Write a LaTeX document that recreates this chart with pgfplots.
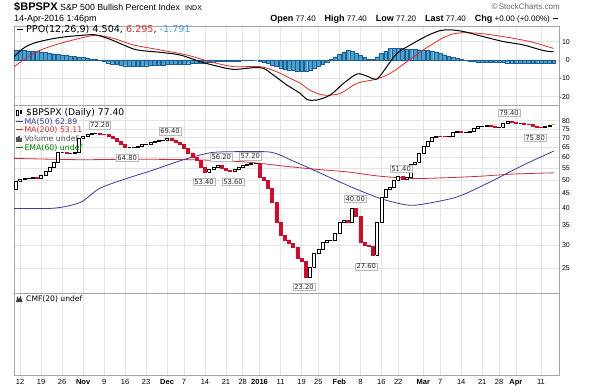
\documentclass[border=0pt]{standalone}
\usepackage{pgfplots}
\pgfplotsset{compat=1.18}
\usepackage{pgfplotstable}
\usepackage{fontspec}
\setmainfont{Liberation Sans}
\newfontfamily\dv{DejaVu Sans}
\newcommand{\fs}[1]{\fontsize{#1}{#1}\selectfont}

\definecolor{cand}{RGB}{200,16,46}
\definecolor{ma50}{RGB}{60,60,150}
\definecolor{ma200}{RGB}{205,45,65}
\definecolor{sig}{RGB}{215,45,45}
\definecolor{histf}{RGB}{75,160,205}
\definecolor{histd}{RGB}{30,95,145}
\definecolor{gridc}{RGB}{228,228,228}
\definecolor{gridm}{RGB}{180,180,180}
\definecolor{framec}{RGB}{165,165,165}
\definecolor{emag}{RGB}{0,128,0}
\definecolor{lastc}{RGB}{200,185,0}

% daily close (open = previous close; first open 46.6)
\pgfplotstableread{
i c
-1 49.6
0 50.2
1 50.6
2 50.8
3 51.0
4 50.6
5 52.0
6 53.6
7 55.6
8 57.8
9 62.2
10 62.2
11 62.0
12 62.0
13 62.2
14 69.8
15 70.6
16 71.8
17 72.2
18 72.2
19 72.0
20 71.8
21 71.0
22 69.8
23 68.2
24 66.4
25 64.8
26 64.8
27 65.0
28 65.2
29 66.2
30 66.4
31 67.4
32 67.8
33 68.4
34 68.8
35 69.4
36 68.8
37 67.6
38 66.2
39 64.4
40 62.0
41 60.0
42 58.6
43 55.6
44 53.4
45 54.4
46 55.4
47 56.2
48 54.8
49 54.0
50 53.6
51 54.6
52 55.6
53 56.2
54 56.6
55 57.0
56 57.2
57 51.2
58 49.8
59 47.0
60 42.0
61 36.0
62 32.4
63 31.2
64 30.4
65 29.4
66 27.0
67 26.4
68 23.2
69 25.2
70 28.0
71 29.0
72 30.6
73 31.0
74 31.0
75 33.0
76 35.8
77 36.4
78 36.0
79 40.0
80 37.6
81 30.6
82 30.0
83 29.6
84 27.6
85 35.8
86 43.8
87 46.4
88 47.4
89 50.0
90 51.4
91 50.2
92 51.2
93 56.8
94 57.8
95 62.0
96 65.2
97 67.8
98 70.2
99 71.0
100 70.8
101 70.6
102 71.0
103 73.2
104 73.6
105 72.8
106 73.0
107 73.8
108 75.2
109 76.4
110 76.8
111 77.0
112 76.8
113 75.8
114 76.2
115 78.6
116 79.4
117 79.0
118 78.6
119 78.6
120 78.0
121 77.6
122 76.8
123 76.2
124 75.8
125 76.6
126 77.4
127 77.4
}\candles

\pgfplotstableread{
i h
-1 5.5
0 5.4
1 5.2
2 5.0
3 4.9
4 4.6
5 4.3
6 4.0
7 3.7
8 3.4
9 3.0
10 2.7
11 2.4
12 2.1
13 1.9
14 1.7
15 1.5
16 1.1
17 0.6
18 0.2
19 -0.3
20 -0.9
21 -1.5
22 -2.0
23 -2.5
24 -2.9
25 -3.1
26 -3.3
27 -3.3
28 -3.3
29 -3.2
30 -3.1
31 -3.0
32 -2.9
33 -2.8
34 -2.6
35 -2.5
36 -2.4
37 -2.3
38 -2.2
39 -2.1
40 -2.0
41 -1.9
42 -1.9
43 -1.8
44 -1.6
45 -1.4
46 -1.1
47 -0.9
48 -0.9
49 -0.9
50 -0.9
51 -0.8
52 -0.6
53 -0.3
54 -0.1
55 0.1
56 0.0
57 -0.4
58 -1.0
59 -1.8
60 -2.7
61 -3.5
62 -4.2
63 -4.8
64 -5.3
65 -5.7
66 -6.0
67 -6.1
68 -5.9
69 -5.4
70 -4.5
71 -3.5
72 -2.4
73 -1.2
74 0.2
75 1.8
76 3.2
77 4.4
78 5.1
79 4.8
80 3.6
81 2.4
82 1.3
83 0.5
84 0.4
85 1.8
86 3.6
87 5.0
88 6.2
89 6.5
90 6.4
91 6.2
92 6.0
93 5.8
94 5.7
95 5.6
96 5.4
97 5.1
98 4.8
99 4.3
100 3.6
101 2.9
102 2.2
103 1.6
104 1.0
105 0.4
106 -0.1
107 -0.5
108 -0.8
109 -1.0
110 -1.1
111 -1.2
112 -1.3
113 -1.3
114 -1.4
115 -1.4
116 -1.5
117 -1.5
118 -1.6
119 -1.6
120 -1.7
121 -1.8
122 -1.8
123 -1.8
124 -1.7
125 -1.6
126 -1.7
127 -1.8
}\histo

\pgfplotstableread{
i v
-1.4 1.8
0.8 6.4
3.2 9.1
7.1 11.3
11.1 12.7
15.1 13.5
17.5 13.8
19.0 13.1
21.4 11.3
24.6 8.2
27.8 5.5
33.3 4.2
38.1 2.7
42.9 -0.9
46.8 -3.3
50.8 -5.1
55.5 -4.2
57.9 -4.5
60.3 -8.2
63.5 -13.6
66.7 -18.2
68.3 -21.5
70.6 -21.8
73.8 -19.1
77.0 -12.7
80.2 -7.6
82.5 -8.7
84.9 -10.4
87.3 -3.6
89.7 3.6
92.9 8.2
96.8 13.1
100.0 16.0
102.4 16.4
105.5 15.5
110.3 12.7
115.1 10.0
119.8 8.2
124.6 5.1
127.0 4.5
}\ppo

\pgfplotstableread{
i v
-1.4 -3.6
3.2 3.6
7.1 7.3
11.1 10.0
15.9 12.7
18.3 13.5
22.2 11.8
27.0 8.2
33.3 5.5
39.7 2.7
45.2 -0.9
50.8 -3.6
57.1 -3.6
61.1 -6.4
64.3 -10.0
66.7 -12.7
69.0 -16.4
72.2 -19.1
76.2 -18.2
80.2 -12.7
84.9 -10.4
88.1 -7.3
92.1 -0.9
96.0 5.5
100.8 12.2
104.0 14.6
108.7 14.6
115.1 12.7
121.4 10.0
127.0 6.3
}\signal

\pgfplotstableread{
i v
-1.4 40.0
7.1 40.0
11.1 40.7
14.7 42.2
19.0 46.9
25.4 50.7
31.7 54.2
37.3 57.8
41.3 60.2
45.2 62.1
49.2 62.6
58.7 62.6
61.9 61.0
64.3 58.8
69.0 54.9
77.8 48.1
85.7 43.3
92.1 41.1
96.0 41.4
104.0 43.8
111.1 48.7
115.9 52.8
120.6 57.1
127.0 62.9
}\maf

\pgfplotstableread{
i v
-1.4 59.4
14.1 58.8
25.4 59.0
40.5 58.8
53.2 57.8
64.3 55.6
69.8 54.6
77.8 53.4
85.7 51.6
93.7 50.7
101.6 51.0
109.5 51.6
117.5 52.5
127.0 53.0
}\mat

\tikzset{lbl/.style={font=\dv\fs{6.8}, fill=white, draw=gray!55, line width=0.3pt, inner sep=1pt, text=black!85}}
\pgfplotsset{
 candle0/.style={draw=black, line width=0.5pt},
 candle1/.style={draw=black, fill=white, line width=0.5pt},
 candle2/.style={draw=cand, fill=cand, line width=0.5pt},
 candle3/.style={draw=lastc, line width=0.9pt},
 panel/.style={
  scale only axis, width=545.5pt, xmin=-1.45, xmax=128.4,
  axis line style={framec, line width=0.5pt},
  xtick={0,5,10,15,20,25,30,35,39,44,49,53,57,62,67,71,76,81,86,90,96,100,105,110,114,118,124},
  minor xtick={15,35,57,76,96,118},
  xmajorgrids, ymajorgrids, xminorgrids,
  major grid style={gridc, line width=0.5pt},
  minor grid style={gridm, line width=0.6pt},
  major tick length=0pt, minor tick length=0pt,
  xticklabels={},
  yticklabel pos=right,
  yticklabel style={font=\fs{7}, anchor=east, inner sep=0pt, xshift=10.5pt},
  /pgf/number format/assume math mode=true,
  no markers,
 }
}

\begin{document}
\begin{tikzpicture}
\path[use as bounding box, fill=white] (0pt,0pt) rectangle (590pt,-389pt);

% ---------- PPO panel
\begin{axis}[panel, at={(14pt,-26pt)}, anchor=north west, height=79pt,
  ymin=-24.5, ymax=18.5, ytick={-20,-10,0,10}]
\addplot[ybar, bar width=0.9, fill=histf, draw=histd, line width=0.3pt] table[x=i,y=h] {\histo};
\addplot[sig, line width=0.8pt, smooth] table[x=i,y=v] {\signal};
\addplot[black, line width=1pt, smooth] table[x=i,y=v] {\ppo};
\end{axis}

% ---------- price panel
\pgfplotstablegetrowsof{\candles}
\pgfmathtruncatemacro\Nc{\pgfplotsretval-1}
\begin{axis}[panel, at={(14pt,-105pt)}, anchor=north west, height=188pt,
  ymode=log, ymin=20.5, ymax=90.6,
  ytick={25,30,35,40,45,50,55,60,65,70,75,80},
  yticklabels={25,30,35,40,45,50,55,60,65,70,75,80}]
\addplot[ma200, line width=0.8pt, smooth] table[x=i,y=v] {\mat};
\addplot[ma50, line width=0.8pt, smooth] table[x=i,y=v] {\maf};
\def\prevc{46.6}
\pgfplotsforeachungrouped \r in {0,...,\Nc}{%
  \pgfplotstablegetelem{\r}{i}\of\candles\let\ci\pgfplotsretval
  \pgfplotstablegetelem{\r}{c}\of\candles\let\cc\pgfplotsretval
  \pgfmathsetmacro\xl{\ci-0.36}%
  \pgfmathsetmacro\xr{\ci+0.36}%
  \pgfmathtruncatemacro\dir{(\cc>\prevc)?1:((\cc<\prevc)?2:0)}%
  \ifnum\r=\Nc\relax\def\dir{3}\fi
  \edef\tmp{\noexpand\addplot[candle\dir] coordinates {(\xl,\prevc) (\xr,\prevc) (\xr,\cc) (\xl,\cc) (\xl,\prevc)};}%
  \tmp
  \global\let\prevc\cc
}
\node[lbl] at (axis cs:19.0,77.3) {72.20};
\node[lbl] at (axis cs:25.5,59.6) {64.80};
\node[lbl] at (axis cs:35.7,73.7) {69.40};
\node[lbl] at (axis cs:47.9,60.0) {56.20};
\node[lbl] at (axis cs:43.8,49.3) {53.40};
\node[lbl] at (axis cs:50.7,49.3) {53.60};
\node[lbl] at (axis cs:54.8,60.5) {57.20};
\node[lbl] at (axis cs:67.6,21.5) {23.20};
\node[lbl] at (axis cs:79.8,43.1) {40.00};
\node[lbl] at (axis cs:82.4,25.3) {27.60};
\node[lbl] at (axis cs:90.7,54.6) {51.40};
\node[lbl] at (axis cs:116.4,85.0) {79.40};
\node[lbl] at (axis cs:122.6,69.8) {75.80};
\end{axis}

% ---------- CMF panel
\begin{axis}[panel, at={(14pt,-293pt)}, anchor=north west, height=82pt,
  ymin=0, ymax=1, ytick=\empty, ymajorgrids=false,
  xticklabels={12,19,26,\textbf{Nov},9,16,23,\textbf{Dec},7,14,21,28,\textbf{2016},11,19,25,\textbf{Feb},8,16,22,\textbf{Mar},7,14,21,28,\textbf{Apr},11},
  xticklabel style={font=\fs{7.5}, inner sep=0pt, anchor=north, yshift=-4pt}]
\addplot[draw=none] coordinates {(0,0.5)};
\end{axis}

% ---------- titles
\node[anchor=base west, inner sep=0pt, font=\bfseries\fs{11}] at (14pt,-10.7pt) {\$BPSPX};
\node[anchor=base west, inner sep=0pt, font=\fs{8.8}] at (60pt,-10.7pt) {S\&P 500 Bullish Percent Index};
\node[anchor=base west, inner sep=0pt, font=\fs{7}] at (185pt,-10.7pt) {INDX};
\node[anchor=base west, inner sep=0pt, font=\fs{9}] at (14pt,-21.7pt) {14-Apr-2016 1:46pm};
\node[anchor=base east, inner sep=0pt, font=\fs{8}, text=black!60] at (560pt,-9.5pt) {©\,StockCharts.com};
\node[anchor=base east, inner sep=0pt, font=\fs{8}] at (550pt,-21.5pt)
  {{\bfseries\fs{9}Open} 77.40\hspace{9pt}{\bfseries\fs{9}High} 77.40\hspace{9pt}{\bfseries\fs{9}Low} 77.20\hspace{9pt}{\bfseries\fs{9}Last} 77.40\hspace{9pt}{\bfseries\fs{9}Chg} +0.00 (+0.00\%)};
\draw[black, line width=1.2pt] (553pt,-18.5pt) -- (558pt,-18.5pt);

% ---------- PPO legend
\draw[black, line width=1pt] (16.5pt,-29.5pt) -- (23pt,-29.5pt);
\node[anchor=base west, inner sep=0pt, font=\dv\fs{9.6}] at (26pt,-32.6pt)
  {PPO(12,26,9) 4.504, \textcolor{sig}{6.295}, \textcolor{histf}{-1.791}};

% ---------- price legend
\draw[black, line width=0.4pt] (16.5pt,-110.5pt) rectangle (18.5pt,-115pt);
\fill[black] (19.6pt,-109.5pt) rectangle (21.6pt,-114pt);
\node[anchor=base west, inner sep=0pt, font=\dv\fs{9.2}] at (26pt,-115.6pt) {\$BPSPX (Daily) 77.40};
\draw[ma50, line width=0.9pt] (16pt,-121.2pt) -- (23pt,-121.2pt);
\node[anchor=base west, inner sep=0pt, font=\dv\fs{7.8}, text=ma50] at (24.3pt,-124pt) {MA(50) 62.89};
\draw[ma200, line width=0.9pt] (16pt,-129.8pt) -- (23pt,-129.8pt);
\node[anchor=base west, inner sep=0pt, font=\dv\fs{7.8}, text=ma200] at (24.3pt,-132.6pt) {MA(200) 53.11};
\fill[black!65] (16.3pt,-141.5pt) rectangle (17.5pt,-137pt);
\fill[black!65] (18.3pt,-141.5pt) rectangle (19.5pt,-135.5pt);
\fill[black!65] (20.3pt,-141.5pt) rectangle (21.5pt,-138pt);
\node[anchor=base west, inner sep=0pt, font=\dv\fs{7.8}, text=black!65] at (24.3pt,-141.6pt) {Volume undef};
\draw[emag, line width=0.9pt] (16pt,-147.7pt) -- (23pt,-147.7pt);
\node[anchor=base west, inner sep=0pt, font=\dv\fs{7.8}, text=emag] at (24.3pt,-150.5pt) {EMA(60) undef};

% ---------- CMF legend
\fill[black!75] (16pt,-302pt) -- (17.5pt,-296pt) -- (19pt,-299.3pt) -- (20.5pt,-295.5pt) -- (22.5pt,-302pt) -- cycle;
\node[anchor=base west, inner sep=0pt, font=\dv\fs{7.6}] at (26pt,-301.8pt) {CMF(20) undef};
\end{tikzpicture}
\end{document}
